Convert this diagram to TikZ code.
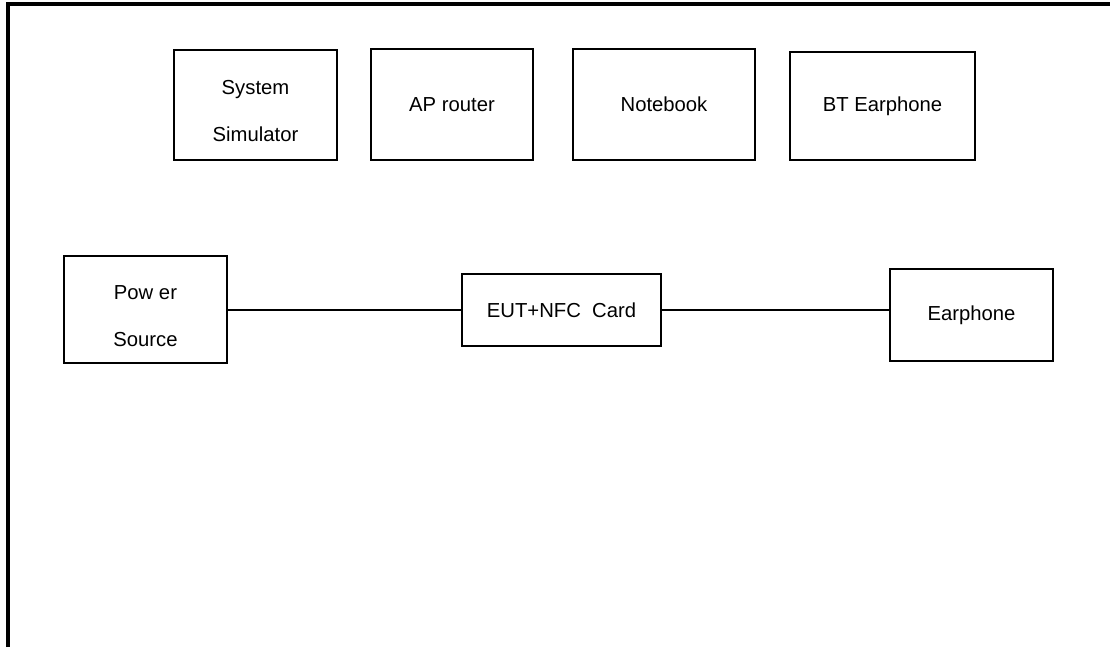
\documentclass[tikz,border=0pt]{standalone}
\usepackage{fontspec}
\setmainfont{Liberation Sans}
\usepackage{tikz}

\tikzset{
  unit/.style={draw, line width=1.3pt, inner sep=0pt, align=center,
    font=\fontsize{15.2}{35}\selectfont},
  twoline/.style={text height=55pt},
  link/.style={line width=1.3pt}
}

\begin{document}
\begin{tikzpicture}[x=0.75pt,y=-0.75pt]
            \useasboundingbox (0,0) rectangle (1110,647);
            \draw[line width=2.4pt] (8,647) -- (8,4) -- (1110,4);
            \node[unit, twoline, minimum width=122pt, minimum height=82.5pt] (sim) at (255.5,105) {System\\Simulator};
            \node[unit, minimum width=121.5pt, minimum height=83pt] (ap) at (452,104.5) {AP router};
            \node[unit, minimum width=136.5pt, minimum height=83pt] (nb) at (664,104.5) {Notebook};
            \node[unit, minimum width=138.5pt, minimum height=81pt] (bt) at (882.5,106) {BT Earphone};
            \node[unit, twoline, minimum width=122pt, minimum height=80pt] (pwr) at (145.5,309.5) {Pow er\\Source};
            \node[unit, minimum width=149pt, minimum height=54pt] (eut) at (561.5,310) {EUT+NFC\ \ Card};
            \node[unit, minimum width=122pt, minimum height=69pt] (ear) at (971.5,315) {Earphone};
            \draw[link] (pwr.east |- eut.west) -- (eut.west);
            \draw[link] (eut.east) -- (eut.east -| ear.west);
        \end{tikzpicture}
\end{document}
